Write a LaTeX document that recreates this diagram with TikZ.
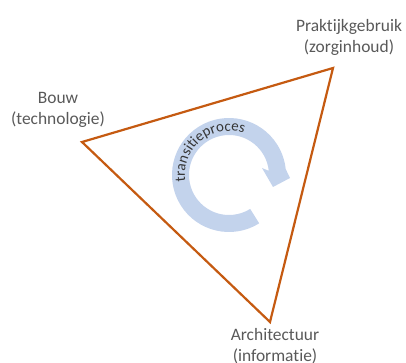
\documentclass[tikz,border=0pt]{standalone}
\usepackage{fontspec}
\setmainfont{Carlito}[Ligatures={NoCommon}]
\usetikzlibrary{calc,decorations.text}

\definecolor{rand}{HTML}{C55A11}
\definecolor{pijl}{HTML}{C3D3EC}
\definecolor{tekst}{HTML}{595959}
\definecolor{boogtekst}{HTML}{363636}

\tikzset{
  hoek/.style={align=center, inner sep=0pt, text=tekst, font=\fontsize{17.5}{21}\selectfont},
  driehoek/.style={draw=rand, line width=2.2bp},
}

\begin{document}
\begin{tikzpicture}[x=1bp, y=1bp]
  \useasboundingbox (0,0) rectangle (406,363);

  % hoekpunten van de driehoek
  \coordinate (bouw) at (82,221);
  \coordinate (praktijk) at (333,295);
  \coordinate (architectuur) at (270,41);
  \draw[driehoek] (bouw) -- (praktijk) -- (architectuur) -- cycle;

  \node[hoek] (bouwlabel) at (58,253) {Bouw\\(technologie)};
  \node[hoek] (praktijklabel) at (349,326) {Praktijkgebruik\\(zorginhoud)};
  \node[hoek] (architectuurlabel) at (275,17) {Architectuur\\(informatie)};

  % ronde pijl in het midden
  \coordinate (c) at (229,188);
  \fill[pijl] ($(c)+(-58:57)$) arc[start angle=-58, end angle=-354, radius=57]
    -- (290,185) -- (273,176) -- (262,195)
    -- ($(c)+(6:40)$) arc[start angle=6, end angle=302, radius=40] -- cycle;

  \path[decorate, decoration={text along path, text align=center,
      text={|\color{boogtekst}\fontsize{15}{16}\selectfont|transitieproces}}]
    ($(c)+(195:44)$) arc[start angle=195, end angle=64, radius=44];
\end{tikzpicture}
\end{document}
